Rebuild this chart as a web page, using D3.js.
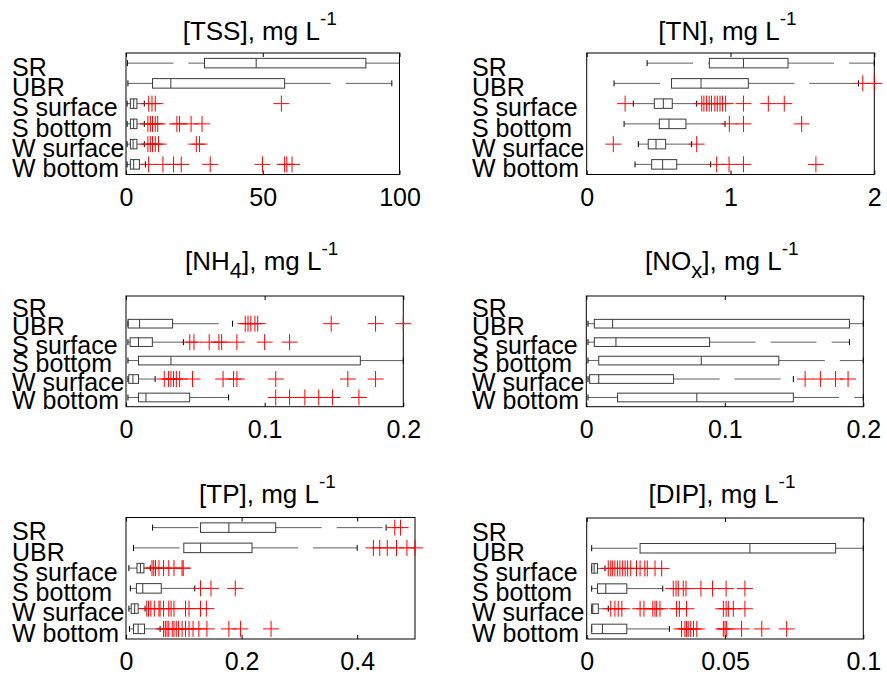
<!DOCTYPE html>
<html>
<head>
<meta charset="utf-8">
<script src="https://cdn.jsdelivr.net/npm/d3@7"></script>
<style>
  html, body { margin: 0; padding: 0; background: #fff; }
  svg { display: block; }
  svg text { font-family: "Liberation Sans", Arial, Helvetica, sans-serif; }
</style>
</head>
<body>
<svg id="chart" width="887" height="678"></svg>
<script>
// ---------------- DATA ----------------
const categories = ["SR", "UBR", "S surface", "S bottom", "W surface", "W bottom"];

// each row: [lower whisker, q1, median, q3, upper whisker]; null = no data
const tssStats = [
  [0.5, 28.7, 47.6, 87.7, 100],
  [0.7, 9.7, 16.4, 58.0, 97.2],
  [0.4, 1.6, 2.8, 4.0, 6.7],
  [0.4, 1.6, 2.8, 4.0, 6.7],
  [0.4, 1.6, 2.6, 4.0, 6.7],
  [0.4, 1.6, 2.8, 4.9, 7.1]
];
const tssOutliers = [
  [], [],
  [8.3, 9.5, 10.7, 56.8],
  [8.0, 8.9, 9.7, 10.7, 11.6, 18.6, 19.6, 23.8, 27.8],
  [8.0, 8.9, 9.7, 10.7, 11.9, 25.7, 26.9],
  [8.3, 13.5, 17.4, 20.2, 30.8, 49.9, 58.0, 58.8, 60.7]
];
const tssTicks = [0, 50, 100];

const tnStats = [
  [0.42, 0.853, 1.09, 1.40, 2.0],
  [0.19, 0.59, 0.795, 1.124, 1.89],
  [0.324, 0.47, 0.533, 0.595, 0.765],
  [0.26, 0.505, 0.572, 0.69, 0.962],
  [0.359, 0.428, 0.482, 0.549, 0.73],
  [0.336, 0.452, 0.528, 0.626, 0.862]
];
const tnOutliers = [
  [],
  [1.92, 2.0],
  [0.267, 0.80, 0.815, 0.834, 0.852, 0.868, 0.891, 0.908, 0.927, 0.945, 0.966, 1.09, 1.263, 1.374],
  [0.992, 1.09, 1.495],
  [0.185, 0.765],
  [0.904, 0.99, 1.09, 1.594]
];
const tnTicks = [0, 1, 2];

const nh4Stats = [
  null,
  [0.0014, 0.0015, 0.0098, 0.0336, 0.0768],
  [0.0014, 0.003, 0.009, 0.019, 0.0415],
  [0.0014, 0.009, 0.0324, 0.169, 0.2],
  [0.0014, 0.002, 0.005, 0.009, 0.021],
  [0.0014, 0.009, 0.0144, 0.0459, 0.074]
];
const nh4Outliers = [
  [],
  [0.086, 0.088, 0.090, 0.093, 0.095, 0.148, 0.18, 0.2],
  [0.046, 0.049, 0.060, 0.067, 0.069, 0.080, 0.100, 0.118],
  [],
  [0.0276, 0.0307, 0.0324, 0.0343, 0.0363, 0.0387, 0.048, 0.070, 0.0776, 0.080, 0.108, 0.160, 0.180],
  [0.108, 0.118, 0.129, 0.139, 0.149, 0.168]
];
const nh4Ticks = [0, 0.1, 0.2];

const noxStats = [
  null,
  [0.0012, 0.0058, 0.019, 0.19, 0.2],
  [0.0012, 0.0058, 0.0214, 0.089, 0.19],
  [0.0012, 0.009, 0.083, 0.139, 0.2],
  [0.0012, 0.0024, 0.009, 0.063, 0.1495],
  [0.0012, 0.0226, 0.0798, 0.1495, 0.2]
];
const noxOutliers = [
  [], [], [], [],
  [0.158, 0.169, 0.18, 0.189],
  []
];
const noxTicks = [0, 0.1, 0.2];

const tpStats = [
  [0.046, 0.129, 0.178, 0.259, 0.45],
  [0.013, 0.1, 0.129, 0.218, 0.4],
  [0.005, 0.019, 0.025, 0.031, 0.042],
  [0.0075, 0.018, 0.029, 0.061, 0.119],
  [0.005, 0.009, 0.015, 0.021, 0.033],
  [0.006, 0.013, 0.021, 0.032, 0.059]
];
const tpOutliers = [
  [0.465, 0.475],
  [0.428, 0.439, 0.452, 0.468, 0.486, 0.5],
  [0.045, 0.048, 0.051, 0.057, 0.065, 0.074, 0.083, 0.097, 0.099],
  [0.129, 0.147, 0.189],
  [0.036, 0.039, 0.043, 0.049, 0.057, 0.059, 0.065, 0.074, 0.078, 0.083, 0.103, 0.109, 0.129, 0.139],
  [0.065, 0.068, 0.071, 0.074, 0.080, 0.083, 0.087, 0.091, 0.097, 0.103, 0.109, 0.116, 0.126, 0.14, 0.178, 0.198, 0.251]
];
const tpTicks = [0, 0.2, 0.4];

const dipStats = [
  null,
  [0.0018, 0.0193, 0.059, 0.090, 0.1],
  [0.0018, 0.0018, 0.0027, 0.0039, 0.0066],
  [0.0018, 0.0039, 0.0069, 0.0145, 0.0275],
  [0.0018, 0.0018, 0.0022, 0.0042, 0.0078],
  [0.0018, 0.0018, 0.0057, 0.0145, 0.0299]
];
const dipOutliers = [
  [], [],
  [0.0078, 0.0087, 0.0094, 0.0102, 0.0111, 0.012, 0.013, 0.0139, 0.0148, 0.0159, 0.018, 0.0193, 0.021, 0.0219, 0.0247, 0.0271],
  [0.0313, 0.0323, 0.0331, 0.0349, 0.0359, 0.0413, 0.0455, 0.0504, 0.0572],
  [0.0087, 0.0102, 0.0114, 0.0127, 0.0193, 0.0207, 0.0239, 0.0247, 0.0253, 0.0265, 0.0325, 0.0335, 0.0361, 0.0494, 0.0504, 0.0512, 0.053, 0.0572],
  [0.0343, 0.0355, 0.0361, 0.0367, 0.0376, 0.0386, 0.0398, 0.0494, 0.05, 0.0506, 0.056, 0.0633, 0.0723]
];
const dipTicks = [0, 0.05, 0.1];

// titles: parts [text, kind] kind: "n" normal, "sub", "sup"
const tssTitle = [["[TSS], mg L", "n"], ["-1", "sup"]];
const tnTitle  = [["[TN], mg L", "n"], ["-1", "sup"]];
const nh4Title = [["[NH", "n"], ["4", "sub"], ["], mg L", "n"], ["-1", "sup"]];
const noxTitle = [["[NO", "n"], ["x", "sub"], ["], mg L", "n"], ["-1", "sup"]];
const tpTitle  = [["[TP], mg L", "n"], ["-1", "sup"]];
const dipTitle = [["[DIP], mg L", "n"], ["-1", "sup"]];

// ---------------- LAYOUT ----------------
const panels = [
  { stats: tssStats, outliers: tssOutliers, ticks: tssTicks, domain: [0, 100], title: tssTitle,
    l: 126, r: 399.5, t: 53, b: 174.5, titleY: 39.5, labelX: 12 },
  { stats: tnStats, outliers: tnOutliers, ticks: tnTicks, domain: [0, 2], title: tnTitle,
    l: 586.7, r: 874.3, t: 53, b: 174.5, titleY: 39.5, labelX: 472 },
  { stats: nh4Stats, outliers: nh4Outliers, ticks: nh4Ticks, domain: [0, 0.2], title: nh4Title,
    l: 126, r: 403.3, t: 296, b: 406.7, titleY: 270, labelX: 12 },
  { stats: noxStats, outliers: noxOutliers, ticks: noxTicks, domain: [0, 0.2], title: noxTitle,
    l: 586.3, r: 863.3, t: 296, b: 406.7, titleY: 270, labelX: 472 },
  { stats: tpStats, outliers: tpOutliers, ticks: tpTicks, domain: [0, 0.5], title: tpTitle,
    l: 126, r: 415, t: 517.5, b: 639, titleY: 503, labelX: 12 },
  { stats: dipStats, outliers: dipOutliers, ticks: dipTicks, domain: [0, 0.1], title: dipTitle,
    l: 586.7, r: 863.3, t: 518, b: 639, titleY: 503, labelX: 472 }
];

const svg = d3.select("#chart");
const FAMILY = "'Liberation Sans', Arial, Helvetica, sans-serif";
const LABEL_FONT = 25;
const TICK_FONT = 25;
const TITLE_FONT = 26;
const boxColor = "#3a3a3a";
const whiskerColor = "#606060";
const fmt = d3.format("~g");

panels.forEach(p => {
  const g = svg.append("g");
  const x = d3.scaleLinear().domain(p.domain).range([p.l, p.r]);
  const y = d3.scalePoint().domain(categories).range([p.t, p.b]).padding(0.5);
  const step = y.step();
  const bh = step * 0.47;

  // bottom axis (inward ticks + labels)
  const ax = g.append("g").attr("transform", `translate(0,${p.b})`)
    .call(d3.axisBottom(x).tickValues(p.ticks).tickFormat(fmt).tickSize(-4));
  ax.attr("font-family", FAMILY).attr("font-size", TICK_FONT);
  ax.select(".domain").remove();
  ax.selectAll(".tick line").attr("stroke", "#000");
  ax.selectAll(".tick text").attr("y", 31).attr("dy", 0)
    .attr("font-size", TICK_FONT).attr("fill", "#000")
    .attr("font-family", FAMILY);

  const axTop = g.append("g").attr("transform", `translate(0,${p.t})`)
    .call(d3.axisTop(x).tickValues(p.ticks).tickFormat("").tickSize(-4));
  axTop.select(".domain").remove();
  axTop.selectAll(".tick line").attr("stroke", "#000");

  // frame
  g.append("rect").attr("x", p.l).attr("y", p.t)
    .attr("width", p.r - p.l).attr("height", p.b - p.t)
    .attr("fill", "none").attr("stroke", "#000").attr("stroke-width", 1);

  // category labels
  g.selectAll("text.cat").data(categories).join("text")
    .attr("class", "cat")
    .attr("x", p.labelX)
    .attr("y", d => y(d) + step * 0.63)
    .attr("font-size", LABEL_FONT)
    .attr("font-family", FAMILY)
    .attr("fill", "#000")
    .text(d => d);

  // title
  const tt = g.append("text")
    .attr("x", (p.l + p.r) / 2 - 3)
    .attr("y", p.titleY)
    .attr("text-anchor", "middle")
    .attr("font-size", TITLE_FONT)
    .attr("font-family", FAMILY)
    .attr("fill", "#000");
  p.title.forEach(([txt, kind], i) => {
    const ts = tt.append("tspan").text(txt);
    if (kind === "sup") ts.attr("font-size", 19).attr("dy", -15);
    else if (kind === "sub") ts.attr("font-size", 22).attr("dy", 8);
    else {
      const prev = i > 0 ? p.title[i - 1][1] : "n";
      if (prev === "sub") ts.attr("dy", -8);
      if (prev === "sup") ts.attr("dy", 15);
    }
  });

  // boxes
  categories.forEach((cat, i) => {
    const s = p.stats[i];
    const cy = y(cat);
    if (s) {
      const [lo, q1, med, q3, hi] = s;
      // lower whisker: drawn from the adjacent value to the box
      g.append("line").attr("x1", x(lo)).attr("x2", x(q1)).attr("y1", cy).attr("y2", cy)
        .attr("stroke", whiskerColor).attr("stroke-width", 1).attr("stroke-dasharray", "46,15");
      // upper whisker: drawn from box to adjacent value
      g.append("line").attr("x1", x(q3)).attr("x2", x(hi)).attr("y1", cy).attr("y2", cy)
        .attr("stroke", whiskerColor).attr("stroke-width", 1).attr("stroke-dasharray", "46,15");
      // caps
      [lo, hi].forEach(v => {
        g.append("line").attr("x1", x(v)).attr("x2", x(v)).attr("y1", cy - 3).attr("y2", cy + 3)
          .attr("stroke", "#000").attr("stroke-width", 1);
      });
      // box
      g.append("rect").attr("x", x(q1)).attr("y", cy - bh / 2)
        .attr("width", Math.max(0, x(q3) - x(q1))).attr("height", bh)
        .attr("fill", "none").attr("stroke", boxColor).attr("stroke-width", 1);
      // median
      g.append("line").attr("x1", x(med)).attr("x2", x(med)).attr("y1", cy - bh / 2).attr("y2", cy + bh / 2)
        .attr("stroke", boxColor).attr("stroke-width", 1);
    }
    // outliers as red plus signs
    const ms = 8;
    g.selectAll(null).data(p.outliers[i]).join("path")
      .attr("d", v => `M${x(v) - ms},${cy}H${x(v) + ms}M${x(v)},${cy - ms}V${cy + ms}`)
      .attr("stroke", "#ff0000").attr("stroke-width", 1).attr("fill", "none");
  });
});
</script>
</body>
</html>
